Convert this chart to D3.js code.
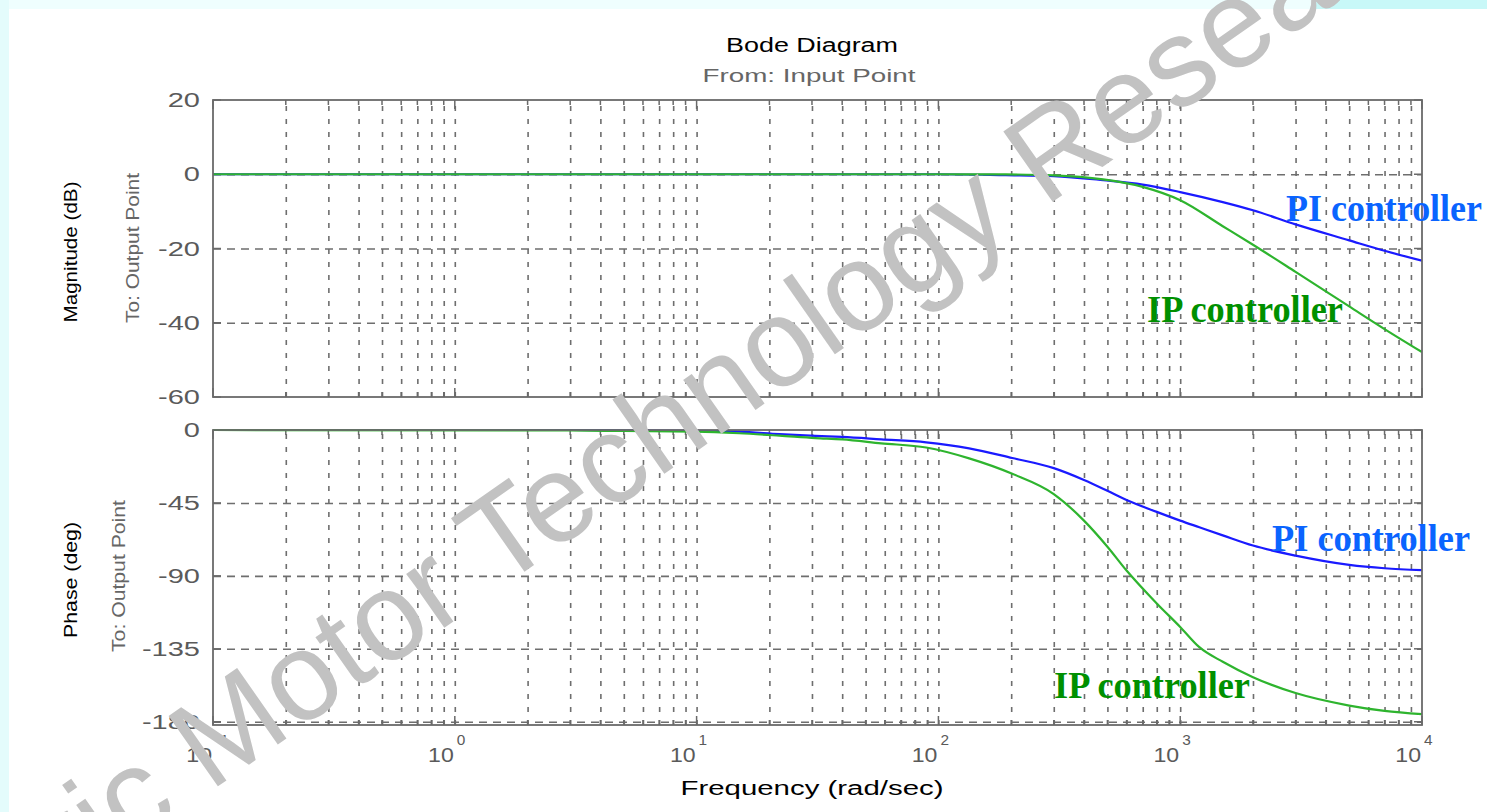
<!DOCTYPE html>
<html>
<head>
<meta charset="utf-8">
<script src="https://cdn.jsdelivr.net/npm/d3@7"></script>
<style>
  html, body { margin: 0; padding: 0; background: #ffffff; }
  svg { display: block; }
</style>
</head>
<body>
<svg id="chart" width="1487" height="812"></svg>
<script>
// ---- Response data (frequency in rad/sec) ----
const magFreq  = [0.1, 100, 190, 300, 480, 700, 1000, 1500, 2000, 3000, 5000, 7000, 10000];
const piMagDb  = [0, 0, -0.25, -0.5, -1.6, -2.8, -4.8, -7.5, -9.7, -13.5, -17.8, -20.6, -23.3];
const ipMagDb  = [0, 0, -0.05, -0.3, -1.4, -3.4, -7.0, -14.0, -19.0, -26.3, -35.6, -41.7, -47.9];

const phaseFreq  = [0.1, 3, 5, 10, 15, 22, 31, 40, 58, 89, 134, 202, 300, 400, 500, 600, 800, 1000, 1200, 1500, 2000, 3000, 5000, 7000, 10000];
const piPhaseDeg = [0, 0, -0.2, -0.5, -1, -2.5, -3.6, -4.3, -5.8, -7.6, -11.3, -17.3, -23.5, -30.8, -37.5, -43.2, -50.5, -55.9, -60, -65, -71.3, -77.5, -83.2, -85.3, -86.5];
const ipPhaseDeg = [0, -0.3, -0.6, -1, -2, -3.5, -5, -5.8, -8.2, -10.8, -17.5, -27, -39.5, -55.9, -72, -86.7, -107, -121.5, -134, -143, -152.5, -162.3, -170, -173.3, -175.3];

// ---- Axis ticks ----
const decadeExps = [-1, 0, 1, 2, 3, 4];
const magTicks   = [20, 0, -20, -40, -60];
const phaseTicks = [0, -45, -90, -135, -180];

// ---- Text ----
const titleText  = "Bode Diagram";
const fromText   = "From: Input Point";
const toText     = "To: Output Point";
const magLabel   = "Magnitude (dB)";
const phaseLabel = "Phase (deg)";
const freqLabel  = "Frequency (rad/sec)";
const piName     = "PI controller";
const ipName     = "IP controller";
const markText   = "Electric Motor Technology Research";

// ---- Colours ----
const piColor = "#1a1aff", ipColor = "#2eb42e";
const piTextColor = "#0a64ff", ipTextColor = "#009000";
const gridColor = "#6e6e6e", frameColor = "#6a6a6a", tickTextColor = "#5a5a5a";

const W = 1487, H = 812;
const L = 213, R = 1422;
const magBox   = { top: 100, bottom: 397 };
const phaseBox = { top: 430, bottom: 725 };

const svg = d3.select("#chart");

// page background
svg.append("rect").attr("width", W).attr("height", H).attr("fill", "#e4fcfc");
svg.append("rect").attr("x", 9).attr("y", 0).attr("width", W - 9).attr("height", 9).attr("fill", "#effefe");
svg.append("rect").attr("x", 1313).attr("y", 0).attr("width", W - 1313).attr("height", 9).attr("fill", "#c8f8f8");
svg.append("rect").attr("x", 9).attr("y", 9).attr("width", W - 9).attr("height", H - 9).attr("fill", "#ffffff");

const x = d3.scaleLog().domain([0.1, 1e4]).range([L, R]);
const yMag = d3.scaleLinear().domain([-60, 20]).range([magBox.bottom, magBox.top]);
const yPh  = d3.scaleLinear().domain([-182, 0]).range([phaseBox.bottom, phaseBox.top]);

const decades = decadeExps.map(e => Math.pow(10, e));
const logTicks = [];
decades.slice(0, -1).forEach(d => { for (let m = 1; m <= 9; m++) logTicks.push(m * d); });
logTicks.push(1e4);
const isDecade = v => Math.abs(Math.log10(v) - Math.round(Math.log10(v))) < 1e-9;

const FONT = "'Liberation Sans', Arial, Helvetica, sans-serif";

// stretch a text element horizontally to a given width, anchored at ax
function fitText(sel, width, ax, align) {
  sel.attr("lengthAdjust", "spacingAndGlyphs").attr("textLength", width).attr("text-anchor", "start");
  const start = align === "end" ? ax - width : align === "middle" ? ax - width / 2 : ax;
  sel.attr("x", start);
  return sel;
}
function natural(sel) { return sel.node().getComputedTextLength(); }

function drawPanel(box, yScale, yTicks, id) {
  const g = svg.append("g");
  const h = box.bottom - box.top;

  // horizontal grid
  g.append("g")
    .attr("transform", `translate(${L},0)`)
    .call(d3.axisLeft(yScale).tickValues(yTicks.filter(v => yScale(v) > box.top + 1 && yScale(v) < box.bottom - 1))
      .tickSize(-(R - L)).tickFormat(""))
    .call(s => s.select(".domain").remove())
    .call(s => s.selectAll("line").attr("stroke", gridColor).attr("stroke-width", 1.6).attr("stroke-dasharray", "8,6"));

  // vertical grid
  g.append("g")
    .attr("transform", `translate(0,${box.bottom})`)
    .call(d3.axisBottom(x).tickValues(logTicks.filter(v => v > 0.1 && v < 1e4)).tickSize(-h).tickFormat(""))
    .call(s => s.select(".domain").remove())
    .call(s => s.selectAll("line").attr("stroke", gridColor).attr("stroke-width", 1.6).attr("stroke-dasharray", "5,8"));

  // small ticks on the top and bottom frame
  [["bottom", box.bottom, 1], ["top", box.top, -1]].forEach(([name, yy, dir]) => {
    g.append("g").selectAll("line").data(logTicks).join("line")
      .attr("x1", d => x(d)).attr("x2", d => x(d))
      .attr("y1", yy).attr("y2", d => yy - dir * (isDecade(d) ? 9 : 5))
      .attr("stroke", frameColor).attr("stroke-width", 1.5);
  });

  // ticks on left and right frame
  [[L, 1], [R, -1]].forEach(([xx, dir]) => {
    g.append("g").selectAll("line").data(yTicks).join("line")
      .attr("x1", xx).attr("x2", xx + dir * 8)
      .attr("y1", d => yScale(d)).attr("y2", d => yScale(d))
      .attr("stroke", frameColor).attr("stroke-width", 1.5);
  });

  // y tick labels
  g.append("g").selectAll("text").data(yTicks).join("text")
    .attr("y", d => yScale(d) + 7)
    .attr("font-family", FONT).attr("font-size", 20).attr("fill", tickTextColor)
    .text(d => String(d))
    .each(function () {
      const t = d3.select(this);
      fitText(t, natural(t) * 1.45, 200, "end");
    });

  // clip for curves
  svg.append("clipPath").attr("id", id).append("rect")
    .attr("x", L).attr("y", box.top - 2).attr("width", R - L).attr("height", h + 4);

  return g;
}

drawPanel(magBox, yMag, magTicks, "clipMag");
drawPanel(phaseBox, yPh, phaseTicks, "clipPh");

// curves
function curve(freqs, vals, yScale, color, clip) {
  const line = d3.line().x((d, i) => x(freqs[i])).y(d => yScale(d)).curve(d3.curveMonotoneX);
  svg.append("path").datum(vals)
    .attr("d", line).attr("fill", "none").attr("stroke", color).attr("stroke-width", 2.2)
    .attr("clip-path", `url(#${clip})`);
}
curve(magFreq, piMagDb, yMag, piColor, "clipMag");
curve(magFreq, ipMagDb, yMag, ipColor, "clipMag");
curve(phaseFreq, piPhaseDeg, yPh, piColor, "clipPh");
curve(phaseFreq, ipPhaseDeg, yPh, ipColor, "clipPh");

// frames
[magBox, phaseBox].forEach(b => {
  svg.append("rect").attr("x", L).attr("y", b.top).attr("width", R - L).attr("height", b.bottom - b.top)
    .attr("fill", "none").attr("stroke", frameColor).attr("stroke-width", 1.8);
});

// x tick labels (10^k)
const xl = svg.append("g");
decadeExps.forEach(e => {
  const xx = x(Math.pow(10, e));
  const base = xl.append("text").attr("y", 762).attr("font-family", FONT).attr("font-size", 21)
    .attr("fill", tickTextColor).text("10");
  fitText(base, natural(base) * 1.1, xx - 1, "end");
  const ex = xl.append("text").attr("y", 745).attr("font-family", FONT).attr("font-size", 14)
    .attr("fill", tickTextColor).text(String(e));
  fitText(ex, natural(ex) * 1.1, xx + 2, "start");
});

// titles and axis labels
const title = svg.append("text").attr("y", 52).attr("font-family", FONT).attr("font-size", 20)
  .attr("fill", "#000").text(titleText);
fitText(title, 172, 812, "middle");
const from = svg.append("text").attr("y", 82).attr("font-family", FONT).attr("font-size", 19)
  .attr("fill", "#666").text(fromText);
fitText(from, 213, 809, "middle");
const fx = svg.append("text").attr("y", 795).attr("font-family", FONT).attr("font-size", 20)
  .attr("fill", "#000").text(freqLabel);
fitText(fx, 263, 812, "middle");

function vLabel(text, bx, cy, len, color) {
  const t = svg.append("text").attr("transform", `translate(${bx},${cy}) rotate(-90)`)
    .attr("y", 0).attr("font-family", FONT).attr("font-size", 19).attr("fill", color).text(text);
  fitText(t, len, 0, "middle");
}
vLabel(magLabel, 77, 252, 141, "#000");
vLabel(toText, 139, 248, 150, "#666");
vLabel(phaseLabel, 77, 580, 116, "#000");
vLabel(toText, 125, 576, 152, "#666");

// curve annotations
function note(text, x0, x1, yb, color) {
  const t = svg.append("text").attr("y", yb).attr("font-family", "'Liberation Serif', 'Times New Roman', serif")
    .attr("font-weight", "bold").attr("font-size", 38).attr("fill", color).text(text);
  fitText(t, x1 - x0, x0, "start");
}
note(piName, 1286, 1482, 221, piTextColor);
note(ipName, 1147, 1343, 322, ipTextColor);
note(piName, 1272, 1470, 551, piTextColor);
note(ipName, 1054, 1250, 698, ipTextColor);

// watermark
svg.append("text")
  .attr("transform", "translate(664,474) rotate(-35)")
  .attr("text-anchor", "middle")
  .attr("font-family", FONT).attr("font-size", 125).attr("fill", "#c2c2c2")
  .text(markText);
</script>
</body>
</html>
